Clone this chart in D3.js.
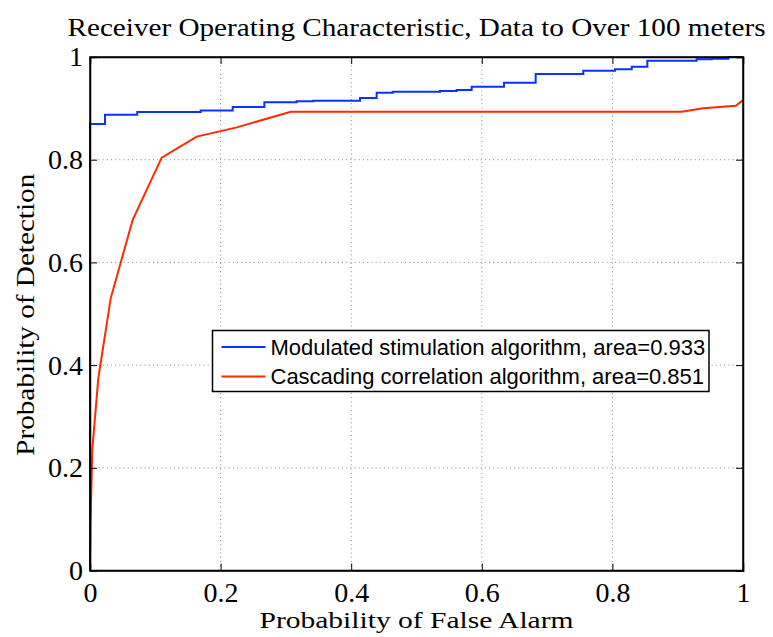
<!DOCTYPE html>
<html><head><meta charset="utf-8">
<script src="https://cdn.jsdelivr.net/npm/d3@7"></script>
<style>html,body{margin:0;padding:0;background:#fff;}svg{display:block;}</style>
</head><body>
<svg id="c" width="773" height="637"></svg>
<script>
const titleText = "Receiver Operating Characteristic, Data to Over 100 meters";
const xLabel = "Probability of False Alarm";
const yLabel = "Probability of Detection";
const xTicks = [0, 0.2, 0.4, 0.6, 0.8, 1];
const yTicks = [0, 0.2, 0.4, 0.6, 0.8, 1];
const seriesNames = ["Modulated stimulation algorithm, area=0.933", "Cascading correlation algorithm, area=0.851"];
// Modulated stimulation (step ROC): false alarm, detection
const msFA  = [0, 0, 0.023, 0.0724, 0.1695, 0.2185, 0.267, 0.3165, 0.342, 0.4135, 0.439, 0.4636, 0.536, 0.5615, 0.5845, 0.634, 0.6825, 0.7554, 0.804, 0.8296, 0.8535, 0.929, 0.952, 0.9775, 1];
const msPD  = [0, 0.8695, 0.8876, 0.893, 0.896, 0.9026, 0.9118, 0.9137, 0.915, 0.920, 0.9305, 0.9324, 0.9338, 0.9357, 0.942, 0.950, 0.967, 0.9733, 0.976, 0.981, 0.9928, 0.9955, 0.9967, 1.0, 1.0];
// Cascading correlation
const ccFA  = [0, 0.001, 0.0035, 0.0127, 0.0317, 0.0654, 0.1098, 0.1634, 0.2247, 0.3074, 0.906, 0.939, 0.989, 1];
const ccPD  = [0, 0.1, 0.235, 0.374, 0.530, 0.683, 0.804, 0.845, 0.863, 0.8935, 0.8935, 0.900, 0.905, 0.916];
const colors = ["#0a32ff", "#ff2a00"];

const svg = d3.select("#c");
const L = 90, R = 743, T = 57, B = 570.5;
const x = d3.scaleLinear().domain([0, 1]).range([L, R]);
const y = d3.scaleLinear().domain([0, 1]).range([B, T]);
const serif = "'Liberation Serif', 'Times New Roman', serif";
const sans = "'Liberation Sans', Arial, Helvetica, sans-serif";

// grid
const g = svg.append("g");
g.selectAll(".gx").data(xTicks.filter(d => d > 0 && d < 1)).enter().append("line")
  .attr("x1", d => x(d)).attr("x2", d => x(d)).attr("y1", T).attr("y2", B)
  .attr("stroke", "#888").attr("stroke-width", 1).attr("stroke-dasharray", "1,3.2");
g.selectAll(".gy").data(yTicks.filter(d => d > 0 && d < 1)).enter().append("line")
  .attr("x1", L).attr("x2", R).attr("y1", d => y(d)).attr("y2", d => y(d))
  .attr("stroke", "#888").attr("stroke-width", 1).attr("stroke-dasharray", "1,3.2");

// series
const msData = msFA.map((v, i) => [v, msPD[i]]);
const ccData = ccFA.map((v, i) => [v, ccPD[i]]);
const stepLine = d3.line().x(d => x(d[0])).y(d => y(d[1])).curve(d3.curveStepAfter);
const line = d3.line().x(d => x(d[0])).y(d => y(d[1]));
svg.append("path").attr("d", line(ccData)).attr("fill", "none").attr("stroke", colors[1]).attr("stroke-width", 2);
svg.append("path").attr("d", stepLine(msData)).attr("fill", "none").attr("stroke", colors[0]).attr("stroke-width", 2);

// axes with inward ticks
const tickLen = 7;
const axB = d3.axisBottom(x).tickValues(xTicks).tickSize(-tickLen).tickPadding(10).tickFormat(d3.format("~g"));
const axT = d3.axisTop(x).tickValues(xTicks).tickSize(-tickLen).tickFormat("");
const axL = d3.axisLeft(y).tickValues(yTicks).tickSize(-tickLen).tickPadding(7).tickFormat(d3.format("~g"));
const axR = d3.axisRight(y).tickValues(yTicks).tickSize(-tickLen).tickFormat("");
function style(sel) {
  sel.select(".domain").attr("stroke", "#000").attr("stroke-width", 1.5);
  sel.selectAll(".tick line").attr("stroke", "#000").attr("stroke-width", 1);
  sel.selectAll(".tick text").attr("font-family", serif).attr("font-size", 28).attr("fill", "#000");
}
svg.append("g").attr("transform", `translate(0,${B})`).call(axB).call(style)
  .selectAll(".tick text").attr("dy", "0.75em");
svg.append("g").attr("transform", `translate(0,${T})`).call(axT).call(style);
svg.append("g").attr("transform", `translate(${L},0)`).call(axL).call(style);
svg.append("g").attr("transform", `translate(${R},0)`).call(axR).call(style);
svg.append("rect").attr("x", L).attr("y", T).attr("width", R - L).attr("height", B - T)
  .attr("fill", "none").attr("stroke", "#000").attr("stroke-width", 1.5);

// title and labels
svg.append("text").attr("x", (L + R) / 2).attr("y", 36).attr("text-anchor", "middle")
  .attr("font-family", serif).attr("font-size", 26).attr("fill", "#000")
  .attr("textLength", 698).attr("lengthAdjust", "spacingAndGlyphs").text(titleText);
svg.append("text").attr("x", (L + R) / 2).attr("y", 628).attr("text-anchor", "middle")
  .attr("font-family", serif).attr("font-size", 24).attr("fill", "#000")
  .attr("textLength", 314).attr("lengthAdjust", "spacingAndGlyphs").text(xLabel);
svg.append("text").attr("transform", `translate(34,${(T + B) / 2 + 1}) rotate(-90)`).attr("text-anchor", "middle")
  .attr("font-family", serif).attr("font-size", 26).attr("fill", "#000")
  .attr("textLength", 282).attr("lengthAdjust", "spacingAndGlyphs").text(yLabel);

// legend
const lg = svg.append("g");
lg.append("rect").attr("x", 212.5).attr("y", 330.5).attr("width", 496.5).attr("height", 61)
  .attr("fill", "#fff").attr("stroke", "#000").attr("stroke-width", 1.5);
seriesNames.forEach((name, i) => {
  const yy = 347 + i * 29.5;
  lg.append("line").attr("x1", 221.5).attr("x2", 265.5).attr("y1", yy).attr("y2", yy)
    .attr("stroke", colors[i]).attr("stroke-width", 2);
  lg.append("text").attr("x", 270.5).attr("y", yy).attr("dy", "0.35em")
    .attr("font-family", sans).attr("font-size", 22).attr("fill", "#000").text(name);
});
</script>
</body></html>
